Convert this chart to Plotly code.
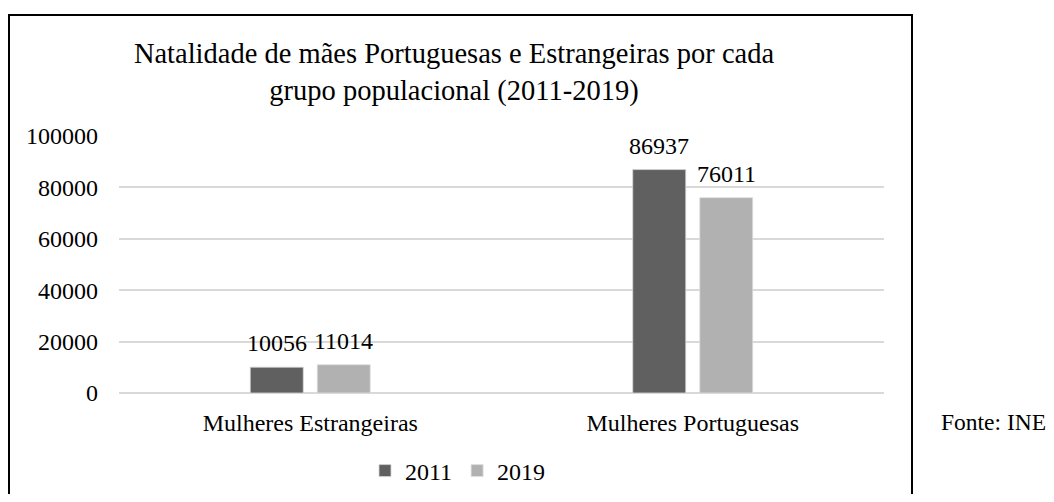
import plotly.graph_objects as go

categories = ["Mulheres Estrangeiras", "Mulheres Portuguesas"]
births_2011 = [10056, 86937]
births_2019 = [11014, 76011]
tick_values = [0, 20000, 40000, 60000, 80000, 100000]
tick_labels = ["0", "20000", "40000", "60000", "80000", "100000"]

FONT = "Liberation Serif, Times New Roman, serif"
FS = 24

fig = go.Figure()
fig.add_trace(go.Bar(
    x=categories, y=births_2011, name="2011",
    marker=dict(color="#606060", line=dict(color="#d6d6d6", width=0.8)),
))
fig.add_trace(go.Bar(
    x=categories, y=births_2019, name="2019",
    marker=dict(color="#b1b1b1", line=dict(color="#e0e0e0", width=0.8)),
))

# value labels above each bar (bars sit 33.5px either side of the category centre)
for vals, shift in [(births_2011, -33.5), (births_2019, 33.5)]:
    for cat, v in zip(categories, vals):
        fig.add_annotation(
            x=cat, y=v, text=str(v), xshift=shift, yshift=9,
            xanchor="center", yanchor="bottom", showarrow=False,
            font=dict(size=FS, family=FONT, color="black"),
        )

# the page body adds an 8px offset, so the figure is laid out 8px up/left
W, H = 1046, 486
L, R, T, B = 111, 170, 128, 101
pw, ph = W - L - R, H - T - B
OFF = 8

def px(x):
    return (x - OFF - L) / pw

def py(y):
    return (H - B - (y - OFF)) / ph

fig.update_layout(
    width=W, height=H,
    margin=dict(l=L, r=R, t=T, b=B, autoexpand=False),
    paper_bgcolor="white", plot_bgcolor="white",
    font=dict(family=FONT, size=FS, color="black"),
    barmode="group", bargap=0.6497, bargroupgap=0.209,
    title=dict(
        text="Natalidade de mães Portuguesas e Estrangeiras por cada<br>grupo populacional (2011-2019)",
        x=(454 - OFF) / W, xanchor="center", y=1 - 55 / H, yanchor="middle",
        font=dict(size=28.5, family=FONT, color="black"),
    ),
    xaxis=dict(showline=False, ticks="", tickfont=dict(size=FS), ticklabelstandoff=13),
    yaxis=dict(
        range=[0, 100000], tickvals=tick_values, ticktext=tick_labels,
        showgrid=True, gridcolor="#d9d9d9", gridwidth=1.5,
        zeroline=True, zerolinecolor="#d9d9d9", zerolinewidth=1.5,
        showline=False, ticks="", ticklabelstandoff=20,
        tickfont=dict(size=FS),
    ),
    legend=dict(
        orientation="h", x=px(458), xanchor="center", y=py(471), yanchor="middle",
        font=dict(size=FS), itemwidth=30, traceorder="normal",
    ),
    showlegend=True,
)

fig.add_shape(
    type="rect", xref="paper", yref="paper",
    x0=px(9), x1=px(912), y0=py(530), y1=py(15),
    line=dict(color="black", width=2), fillcolor="rgba(0,0,0,0)", layer="below",
)
fig.add_annotation(
    text="Fonte: INE", xref="paper", yref="paper",
    x=px(939), y=py(422), xanchor="left", yanchor="middle",
    showarrow=False, font=dict(size=23.5, family=FONT, color="black"),
)

fig.write_html("out.html")
